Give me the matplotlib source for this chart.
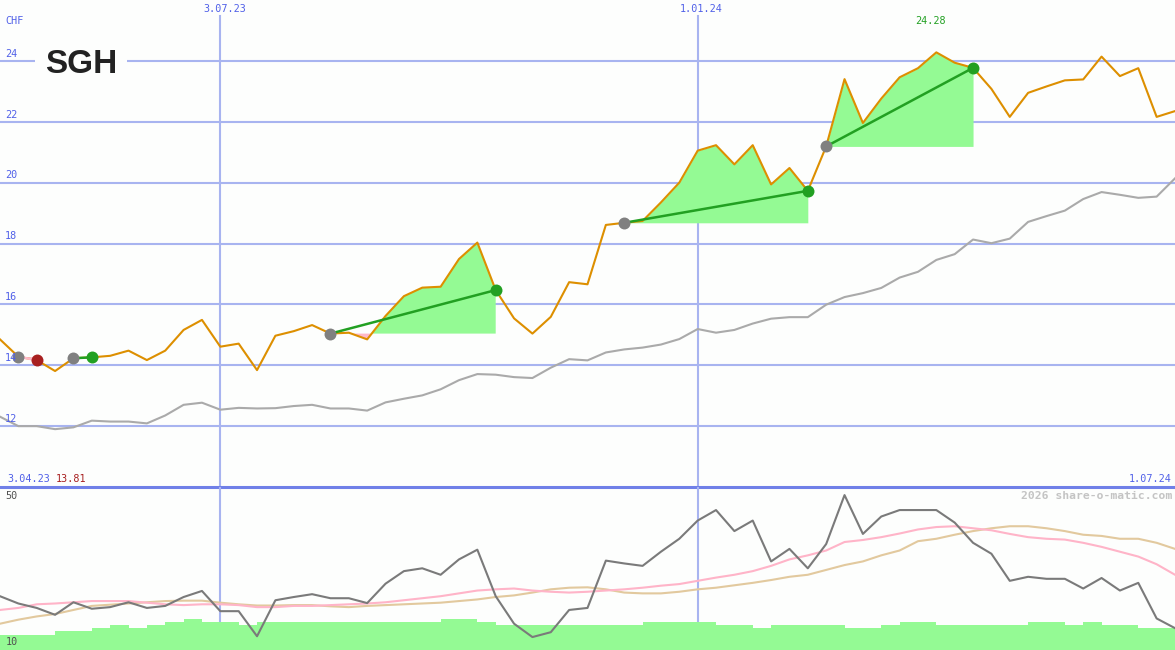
#!/usr/bin/env python3
"""SGH weekly chart with trades, moving average and oscillator panel -> out.png"""

import matplotlib
matplotlib.use('Agg')
import matplotlib.pyplot as plt
import numpy as np

W, H = 1175, 650

# Colours
BG = '#fdfefd'
GRID = '#a8b4f0'
SEP = '#7080e8'
BLUE_TXT = '#5060e8'
ORANGE = '#dd8f00'
MA_GREY = '#aaaaaa'
GAIN = '#22a022'
LOSS = '#a82020'
FILL_GAIN = '#94fa94'
FILL_LOSS = '#ffb8c8'
OSC_GREY = '#7a7a7a'
OSC_PINK = '#ffb4c8'
OSC_TAN = '#e2c99e'
MONO = 'DejaVu Sans Mono'

# --- Data (weekly, index 0 = first week) ---
price = [14.85, 14.28, 14.17, 13.81, 14.23, 14.26, 14.31, 14.48, 14.17, 14.48,
         15.16, 15.49, 14.61, 14.71, 13.84, 14.97, 15.12, 15.32, 15.04, 15.07,
         14.85, 15.62, 16.27, 16.55, 16.58, 17.49, 18.03, 16.47, 15.54, 15.04,
         15.59, 16.73, 16.66, 18.61, 18.68, 18.74, 19.35, 20.00, 21.05, 21.23,
         20.60, 21.23, 19.94, 20.48, 19.73, 21.19, 23.40, 21.96, 22.76, 23.46,
         23.76, 24.28, 23.94, 23.77, 23.08, 22.16, 22.95, 23.16, 23.36, 23.39,
         24.14, 23.50, 23.76, 22.16, 22.35]
ma = [12.31, 12.00, 12.00, 11.90, 11.96, 12.18, 12.15, 12.15, 12.09, 12.35,
      12.70, 12.77, 12.54, 12.60, 12.58, 12.59, 12.66, 12.70, 12.58, 12.58,
      12.51, 12.78, 12.90, 13.01, 13.21, 13.51, 13.71, 13.69, 13.61, 13.58,
      13.92, 14.20, 14.16, 14.42, 14.52, 14.58, 14.68, 14.86, 15.19, 15.07,
      15.16, 15.37, 15.53, 15.58, 15.58, 15.99, 16.24, 16.37, 16.54, 16.88,
      17.07, 17.46, 17.65, 18.13, 18.01, 18.16, 18.71, 18.90, 19.08, 19.46,
      19.69, 19.60, 19.50, 19.54, 20.14]
osc = [23.3, 21.5, 20.4, 18.7, 21.8, 20.2, 20.6, 21.8, 20.4, 20.9,
       23.1, 24.6, 19.6, 19.6, 13.4, 22.3, 23.1, 23.8, 22.8, 22.8,
       21.6, 26.4, 29.5, 30.2, 28.6, 32.4, 34.8, 23.3, 16.5, 13.2,
       14.4, 19.9, 20.4, 32.1, 31.4, 30.8, 34.3, 37.5, 42.0, 44.6,
       39.4, 42.0, 31.9, 35.0, 30.2, 36.2, 48.3, 38.7, 43.0, 44.6,
       44.6, 44.6, 41.5, 36.5, 33.8, 27.1, 28.1, 27.6, 27.6, 25.2,
       27.8, 24.7, 26.6, 17.8, 15.4]
osc_fast = [19.9, 20.4, 21.3, 21.5, 21.8, 22.1, 22.1, 22.1, 21.7, 21.3,
            21.1, 21.3, 21.3, 21.1, 20.6, 20.6, 20.9, 20.9, 21.1, 21.3,
            21.5, 21.8, 22.3, 22.8, 23.3, 24.0, 24.7, 25.0, 25.2, 24.7,
            24.4, 24.2, 24.4, 24.7, 25.0, 25.4, 25.9, 26.3, 27.1, 27.9,
            28.6, 29.5, 30.8, 32.4, 33.4, 34.6, 36.7, 37.2, 37.9, 38.8,
            39.8, 40.4, 40.6, 40.1, 39.6, 38.7, 37.9, 37.5, 37.3, 36.5,
            35.5, 34.3, 33.1, 31.2, 28.6]
osc_slow = [16.5, 17.5, 18.3, 18.9, 19.9, 20.9, 21.2, 21.5, 21.8, 22.1,
            22.2, 22.2, 21.7, 21.3, 21.0, 21.0, 21.1, 21.1, 20.8, 20.6,
            20.9, 21.1, 21.3, 21.5, 21.7, 22.1, 22.5, 23.1, 23.5, 24.2,
            25.0, 25.4, 25.5, 25.0, 24.2, 24.0, 24.0, 24.4, 25.0, 25.4,
            26.0, 26.6, 27.3, 28.1, 28.6, 29.8, 31.0, 31.9, 33.4, 34.6,
            36.9, 37.5, 38.5, 39.4, 40.1, 40.6, 40.6, 40.1, 39.4, 38.5,
            38.2, 37.5, 37.5, 36.5, 35.0]
# volume bars, one per week interval, drawn in oscillator-panel units
volume = [13.7, 13.7, 13.7, 14.7, 14.7, 15.5, 16.2, 15.5, 16.2, 16.9,
          17.7, 16.9, 16.9, 16.2, 16.9, 16.9, 16.9, 16.9, 16.9, 16.9,
          16.9, 16.9, 16.9, 16.9, 17.7, 17.7, 16.9, 16.2, 16.2, 16.2,
          16.2, 16.2, 16.2, 16.2, 16.2, 16.9, 16.9, 16.9, 16.9, 16.2,
          16.2, 15.5, 16.2, 16.2, 16.2, 16.2, 15.5, 15.5, 16.2, 16.9,
          16.9, 16.2, 16.2, 16.2, 16.2, 16.2, 16.9, 16.9, 16.2, 16.9,
          16.2, 16.2, 15.5, 15.5]
buys = [1, 4, 18, 34, 45]
sells = [2, 5, 27, 44, 53]
price_ticks = [12, 14, 16, 18, 20, 22, 24]
date_pos = [12, 38]
date_labels = ['3.07.23', '1.01.24']
start_label, end_label = '3.04.23', '1.07.24'

price = np.array(price)
idx = np.arange(len(price))

fig = plt.figure(figsize=(W / 100, H / 100), dpi=100, facecolor=BG)


def ptext(x, y, s, **kw):
    kw.setdefault('family', MONO)
    kw.setdefault('fontsize', 7.3)
    return fig.text(x / W, 1 - y / H, s, **kw)


sep_y = 487
ax = fig.add_axes([0, 1 - sep_y / H, 1, sep_y / H])
axb = fig.add_axes([0, 0, 1, (H - sep_y) / H])
for a in (ax, axb):
    a.set_xlim(0, len(price) - 1)
    a.axis('off')
ax.set_ylim(10, 26)
axb.set_ylim(10, 50.3)

# --- Grid ---
for v in price_ticks:
    ax.axhline(v, color=GRID, lw=1.5, zorder=1)
    ax.text(0.27, v + 0.07, str(v), family=MONO, fontsize=7.3,
            color=BLUE_TXT, va='bottom', ha='left', zorder=7)
for p, lab in zip(date_pos, date_labels):
    ax.axvline(p, ymin=0, ymax=1 - 16 / sep_y, color=GRID, lw=1.5, zorder=1)
    axb.axvline(p, color=GRID, lw=1.5, zorder=1)
    ptext(p * W / (len(price) - 1) + 4, 9, lab, ha='center', va='center',
          color=BLUE_TXT)
ax.axhline(10, color=SEP, lw=2.2, zorder=8, clip_on=False)

# --- Price panel ---
ax.plot(idx, ma, color=MA_GREY, lw=1.5, zorder=3)
for b, s in zip(buys, sells):
    xs = idx[b:s + 1]
    ys = price[b:s + 1]
    base = price[b]
    ax.fill_between(xs, ys, base, where=ys >= base, interpolate=True,
                    color=FILL_GAIN, lw=0, zorder=2)
    ax.fill_between(xs, ys, base, where=ys <= base, interpolate=True,
                    color=FILL_LOSS, lw=0, zorder=2)
ax.plot(idx, price, color=ORANGE, lw=1.5, zorder=4)
for b, s in zip(buys, sells):
    c = GAIN if price[s] >= price[b] else LOSS
    ax.plot([b, s], [price[b], price[s]], color=c if c == GAIN else FILL_LOSS,
            lw=1.8, zorder=5)
    ax.plot(b, price[b], 'o', ms=8.6, color='#808080', mec='none', zorder=6)
    ax.plot(s, price[s], 'o', ms=8.6, color=c, mec='none', zorder=6)

# --- Oscillator panel ---
axb.bar(idx[:-1], np.array(volume) - 10, bottom=10, width=1, align='edge',
        color=FILL_GAIN, lw=0, zorder=2)
axb.plot(idx, osc_slow, color=OSC_TAN, lw=1.5, zorder=3)
axb.plot(idx, osc_fast, color=OSC_PINK, lw=1.5, zorder=3)
axb.plot(idx, osc, color=OSC_GREY, lw=1.5, zorder=4)

# --- Texts ---
fig.text(45 / W, 1 - 73 / H, 'SGH', family='Liberation Sans', fontsize=24,
         fontweight='bold', color='#222222', va='baseline', ha='left',
         bbox=dict(boxstyle='square,pad=0.3', fc=BG, ec='none'), zorder=9)
ptext(5.5, 21, 'CHF', color=BLUE_TXT, va='center')
hi = int(np.argmax(price))
ptext(hi * W / (len(price) - 1) - 6, 21, f'{price.max():.2f}', color=GAIN,
      ha='center', va='center')
ptext(7, 479, start_label, color=BLUE_TXT, va='center')
ptext(55.5, 479, f'{price.min():.2f}', color=LOSS, va='center')
ptext(1172, 479, end_label, color=BLUE_TXT, va='center', ha='right')
ptext(1172, 496, '2026 share-o-matic.com', color='#c4c4c4', va='center',
      ha='right', fontsize=8.2, fontweight='bold')
ptext(5.5, 496, '50', color='#505050', va='center')
ptext(5.5, 642, '10', color='#505050', va='center')

fig.savefig('out.png', dpi=100, facecolor=BG)
plt.close(fig)
